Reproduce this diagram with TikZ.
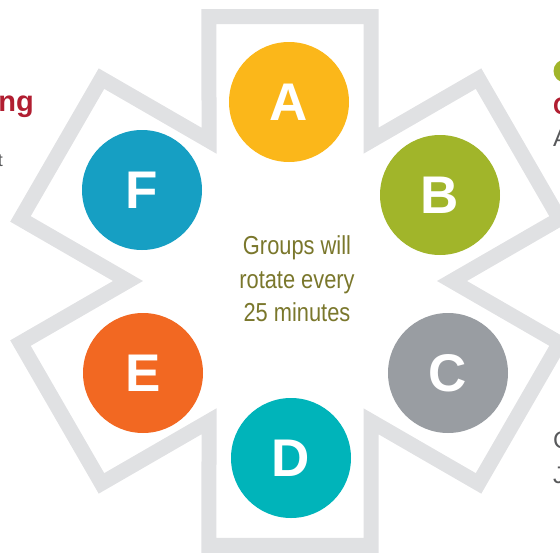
\documentclass[tikz,border=0pt]{standalone}
\usepackage{fontspec}
\setmainfont{Liberation Sans}
\newfontfamily\narrowfont{Liberation Sans}[FakeStretch=0.84]
\usepackage{tikz}

\definecolor{starline}{HTML}{E0E1E3}
\definecolor{colA}{HTML}{FBB71A}
\definecolor{colB}{HTML}{A1B52A}
\definecolor{colC}{HTML}{999DA2}
\definecolor{colD}{HTML}{00B4BA}
\definecolor{colE}{HTML}{F26822}
\definecolor{colF}{HTML}{169FC3}
\definecolor{olive}{HTML}{7A772C}
\definecolor{heading}{HTML}{B11E31}
\definecolor{body}{HTML}{58595B}

\begin{document}
\begin{tikzpicture}[x=1pt,y=-1pt]
			\tikzstyle{grp}=[circle, minimum size=120pt, inner sep=0pt, text=white, font=\fontsize{53}{53}\selectfont\bfseries]
			\tikzstyle{side}=[inner sep=0pt, font=\fontsize{24}{24}\selectfont]

			\useasboundingbox (0,0) rectangle (560,552);

			% star outline
			\draw[starline, line width=15pt, line join=miter, shift={(290,281)}] (60:162)
				\foreach \t in {90,150,210,270,330} { -- (\t-17.03:276.6) -- (\t+17.03:276.6) -- (\t+30:162) }
				-- (12.97:276.6) -- (47.03:276.6) -- cycle;

			\node[grp, fill=colA] (A) at (289,102) {A};
			\node[grp, fill=colB] (B) at (440,195) {B};
			\node[grp, fill=colC] (C) at (448,373) {C};
			\node[grp, fill=colD] (D) at (291,458) {D};
			\node[grp, fill=colE] (E) at (143,373) {E};
			\node[grp, fill=colF] (F) at (142,190) {F};

			\node[align=center, text=olive, font=\narrowfont\fontsize{26}{33.5}\selectfont] (rotate) at (297,279) {Groups will\\rotate every\\25 minutes};

			% cut-off texts at the edges
			\node[side, text=heading, font=\fontsize{29}{29}\selectfont\bfseries, anchor=base east] (lefthead) at (34,111) {ng};
			\node[side, text=body, font=\fontsize{18}{18}\selectfont, anchor=base east] (lefttext) at (3,166) {t};
			\fill[colB] (565,71) circle (11.5);
			\node[side, text=heading, font=\fontsize{24}{24}\selectfont\bfseries, anchor=base west] (righthead) at (553,114) {C};
			\node[side, text=body, anchor=base west] (righttext) at (553,146) {A};
			\node[side, text=body, anchor=base west] (lowtext1) at (553,448) {C};
			\node[side, text=body, anchor=base west] (lowtext2) at (553,483) {J};
		\end{tikzpicture}
\end{document}
